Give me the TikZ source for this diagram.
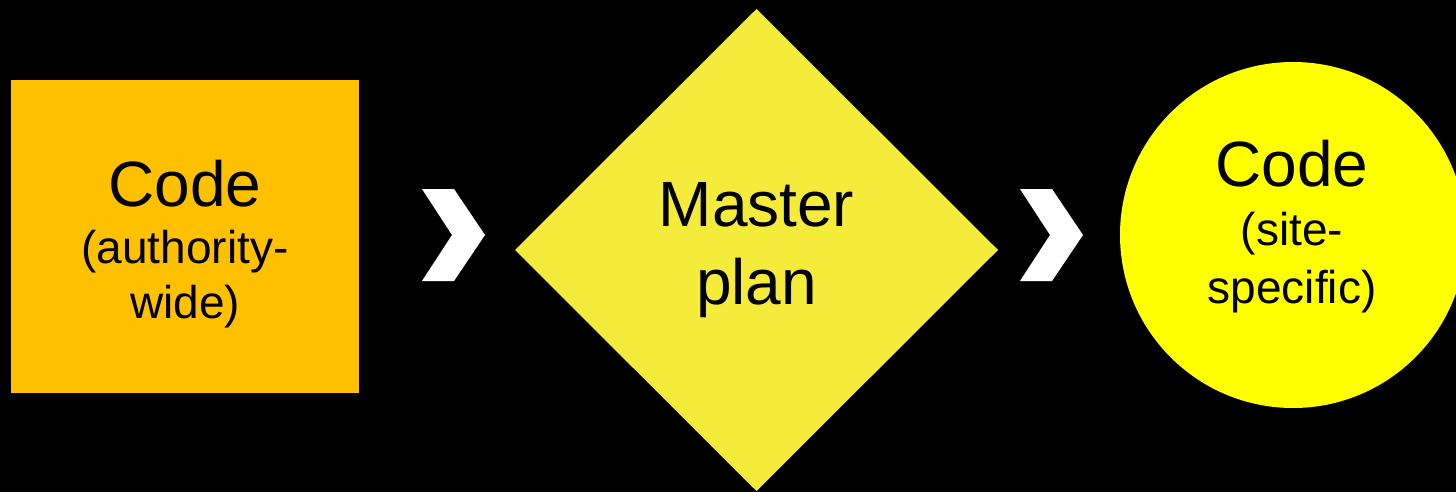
\documentclass[tikz,border=0pt]{standalone}
\usepackage{fontspec}
\setmainfont{Liberation Sans}
\usetikzlibrary{shapes.geometric}

\definecolor{authorityorange}{HTML}{FFC000}
\definecolor{planyellow}{HTML}{F5EB3B}
\definecolor{siteyellow}{HTML}{FFFF00}

\newcommand{\bigword}[1]{{\fontsize{64}{77}\selectfont #1}}

\begin{document}
\begin{tikzpicture}[x=1pt, y=-1pt,
    stage/.style={inner sep=0pt, outer sep=0pt, draw=none},
    caption/.style={align=center, inner sep=0pt, text=black}]

    \useasboundingbox (0, 0) rectangle (1456, 492);
    \clip (0, 0) rectangle (1456, 492);
    \fill[black] (0, 0) rectangle (1456, 492);

    % the three stages
    \node[stage, rectangle, fill=authorityorange, minimum width=348pt, minimum height=313pt] (wide) at (185, 236.5) {};
    \node[stage, diamond, aspect=1, fill=planyellow, minimum width=483pt, minimum height=482pt] (plan) at (756.5, 250) {};
    \node[stage, circle, fill=siteyellow, minimum size=346pt] (site) at (1293, 235) {};

    \node[caption, font=\fontsize{46}{55}\selectfont] (widetext) at (185, 244)
        {\bigword{Code}\\[2pt] (authority-\\ wide)};
    \node[caption, font=\fontsize{64}{78}\selectfont] (plantext) at (756.5, 250)
        {Master\\ plan};
    \node[caption, font=\fontsize{46}{58}\selectfont] (sitetext) at (1292, 226.5)
        {\bigword{Code}\\[1pt] (site-\\ specific)};

    % chevrons between the stages
    \foreach \cx in {422, 1020} {
        \fill[white] (\cx, 189) -- ++(32, 0) -- ++(31, 46) -- ++(-31, 46)
            -- ++(-32, 0) -- ++(30, -46) -- cycle;
    }

\end{tikzpicture}
\end{document}
